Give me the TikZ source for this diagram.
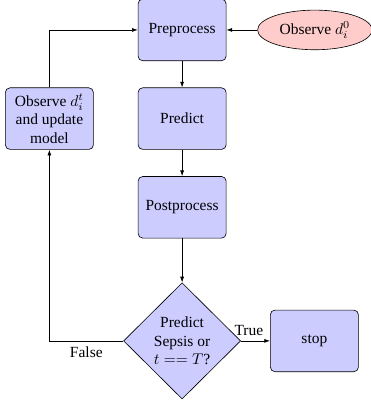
\documentclass[tikz,border=0pt]{standalone}
\usepackage{fontspec}
\setmainfont{Liberation Serif}
\usepackage{tikz}
\usetikzlibrary{arrows.meta,positioning,shapes.geometric}
\tikzset{
  >={Latex[length=1.3mm,width=0.9mm]},
  blk/.style={draw,rectangle,rounded corners=3pt,fill=blue!20,minimum width=2cm,minimum height=1.4cm,align=center,font=\normalsize},
  obs/.style={draw,ellipse,fill=red!20,minimum width=2.6cm,minimum height=0.9cm,inner sep=1pt},
  dec/.style={draw,diamond,fill=blue!20,aspect=1,inner sep=0pt,minimum width=2.66cm,minimum height=2.64cm,align=center},
  line/.style={draw,->},
}
\begin{document}
\begin{tikzpicture}[node distance=0.6cm and 0.7cm]
\useasboundingbox (-4.136,0.68) rectangle (4.27,-8.45);
\node[blk] (pre) at (0,0) {Preprocess};
\node[blk,below=of pre] (pred) {Predict};
\node[blk,below=of pred] (post) {Postprocess};
\node[dec,below=1cm of post] (chk) {Predict\\Sepsis or\\$t==T$?};
\node[blk,right=0.66cm of chk] (stop) {stop};
\node[blk,left=1cm of pred] (upd) {Observe $d_i^t$\\and update\\model};
\node[obs,right=0.7cm of pre] (init) {Observe $d_i^0$};
% connectors
\path[line] (init) -- (pre);
\path[line] (pre) -- (pred);
\path[line] (pred) -- (post);
\path[line] (post) -- (chk);
\path[line] (chk) -- node[above,xshift=-0.15cm] {True} (stop);
\path[line] (chk) -| node[below,pos=0.25] {False} (upd);
\path[line] (upd) |- (pre);
\end{tikzpicture}
\end{document}
